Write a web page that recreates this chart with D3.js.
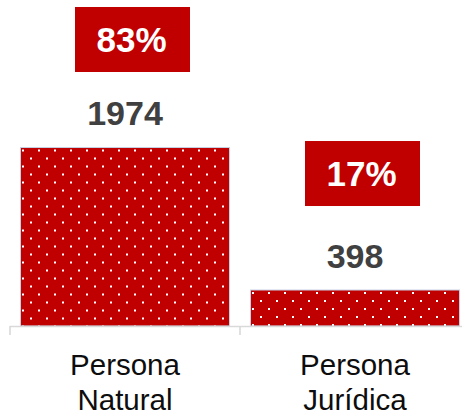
<!DOCTYPE html>
<html><head><meta charset="utf-8">
<script src="https://cdn.jsdelivr.net/npm/d3@7"></script>
<style>html,body{margin:0;padding:0;background:#fff;}svg{display:block;}</style>
</head><body>
<script>
const categories = [["Persona","Natural"],["Persona","Jurídica"]];
const values = [1974, 398];
const percents = ["83%", "17%"];

const W = 462, H = 415;
const svg = d3.select("body").append("svg").attr("width", W).attr("height", H);
const font = "'Liberation Sans', Arial, sans-serif";

const keys = categories.map(c => c.join(" "));
const x = d3.scaleBand().domain(keys).range([10, 470]).paddingInner(21/230).paddingOuter(21/460);
const y = d3.scaleLinear().domain([0, 1974]).range([326, 147.5]);

const defs = svg.append("defs");
keys.forEach((k, i) => {
  const p = defs.append("pattern").attr("id", "dots" + i)
    .attr("patternUnits", "userSpaceOnUse").attr("width", 16).attr("height", 16)
    .attr("x", x(k) + 1.5).attr("y", y(values[i]) + 2);
  p.append("rect").attr("width", 16).attr("height", 16).attr("fill", "#c00000");
  p.append("rect").attr("x", 0).attr("y", 0).attr("width", 2).attr("height", 2).attr("fill", "#fff");
  p.append("rect").attr("x", 8).attr("y", 8).attr("width", 2).attr("height", 2).attr("fill", "#fff");
});

// bars
svg.selectAll("rect.bar").data(values).join("rect").attr("class", "bar")
  .attr("x", (d, i) => x(keys[i]))
  .attr("y", d => y(d))
  .attr("width", x.bandwidth())
  .attr("height", d => y(0) - y(d))
  .attr("fill", (d, i) => `url(#dots${i})`)
  .attr("stroke", "#c5cfe2").attr("stroke-width", 1);

// axis
const step = x.step();
svg.append("line").attr("x1", 10).attr("x2", 470).attr("y1", 326.5).attr("y2", 326.5)
  .attr("stroke", "#d9d9d9").attr("stroke-width", 1.6);
const bounds = [x(keys[0]) - step * x.paddingInner() / 2, ...keys.map(k => x(k) + x.bandwidth() + step * x.paddingInner() / 2)];
svg.selectAll("line.tick").data(bounds).join("line").attr("class", "tick")
  .attr("x1", d => d).attr("x2", d => d).attr("y1", 326).attr("y2", 335)
  .attr("stroke", "#d9d9d9").attr("stroke-width", 1.6);

// value labels
svg.selectAll("text.val").data(values).join("text").attr("class", "val")
  .attr("x", (d, i) => x(keys[i]) + x.bandwidth() / 2)
  .attr("y", d => y(d) - 22.5)
  .attr("text-anchor", "middle").attr("font-family", font).attr("font-weight", "bold")
  .attr("font-size", 34).attr("fill", "#404040").text(d => d);

// percent boxes
const boxW = 115, boxH = 65, boxShift = 7.5;
svg.selectAll("rect.pbox").data(values).join("rect").attr("class", "pbox")
  .attr("x", (d, i) => x(keys[i]) + x.bandwidth() / 2 - boxW / 2 + boxShift)
  .attr("y", (d, i) => y(d) - (i === 0 ? 140.5 : 149))
  .attr("width", boxW).attr("height", boxH).attr("fill", "#c00000");
svg.selectAll("text.pct").data(values).join("text").attr("class", "pct")
  .attr("x", (d, i) => x(keys[i]) + x.bandwidth() / 2 + boxShift - 1)
  .attr("y", (d, i) => y(d) - (i === 0 ? 140.5 : 149) + 44.5)
  .attr("text-anchor", "middle").attr("font-family", font).attr("font-weight", "bold")
  .attr("font-size", 35).attr("fill", "#fff").text((d, i) => percents[i]);

// category labels
categories.forEach((lines, i) => {
  const t = svg.append("text").attr("text-anchor", "middle").attr("font-family", font)
    .attr("font-size", 29.5).attr("fill", "#0d0d0d");
  lines.forEach((ln, j) => {
    t.append("tspan").attr("x", x(keys[i]) + x.bandwidth() / 2).attr("y", 375 + j * 35).text(ln);
  });
});
</script>
</body></html>
